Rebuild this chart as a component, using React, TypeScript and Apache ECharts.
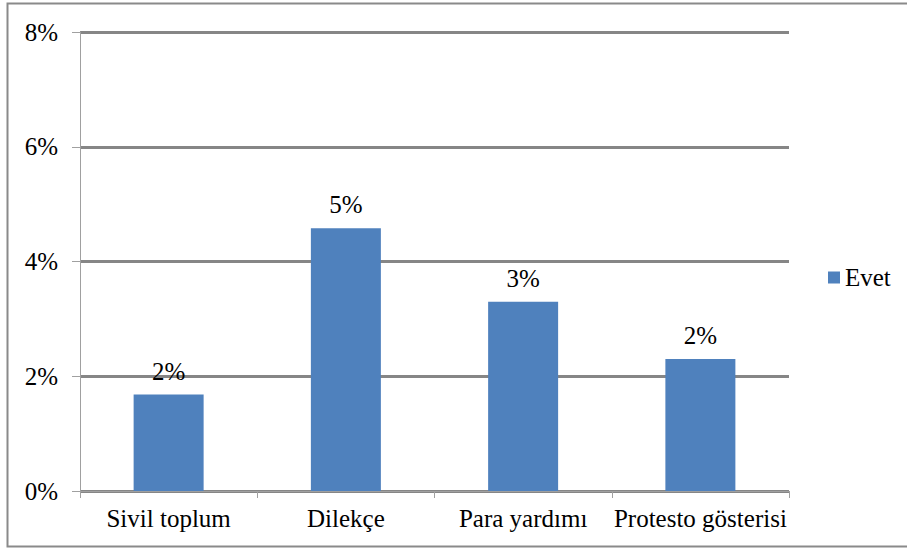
import React, { useEffect, useRef } from "react";
import * as echarts from "echarts";

const categories = ["Sivil toplum", "Dilekçe", "Para yardımı", "Protesto gösterisi"];
const evetValues = [1.68, 4.58, 3.3, 2.3];
const seriesName = "Evet";

export default function App() {
  const ref = useRef<HTMLDivElement>(null);
  useEffect(() => {
    if (!ref.current) return;
    const chart = echarts.init(ref.current, null, { renderer: "svg" });
    const font = "Liberation Serif";
    const txt = { fontFamily: font, fontSize: 25, color: "#000", fontWeight: "normal" as const };
    chart.setOption({
      animation: false,
      textStyle: { ...txt },
      graphic: [
        {
          type: "rect",
          shape: { x: 7.5, y: 3.5, width: 960, height: 543 },
          style: { fill: "none", stroke: "#8a8a8a", lineWidth: 2 },
          silent: true,
        },
      ],
      grid: { left: 80, right: 118, top: 32, bottom: 58 },
      legend: {
        data: [seriesName],
        left: 828,
        top: 265,
        padding: 0,
        orient: "vertical",
        itemWidth: 12,
        itemHeight: 12,
        icon: "rect",
        textStyle: { ...txt },
      },
      xAxis: {
        type: "category",
        data: categories,
        axisLine: { show: true, lineStyle: { color: "#a0a0a0", width: 1 } },
        axisTick: { show: true, length: 7, lineStyle: { color: "#a0a0a0" } },
        axisLabel: { ...txt, margin: 15, interval: 0 },
      },
      yAxis: {
        type: "value",
        min: 0,
        max: 8,
        interval: 2,
        axisLine: { show: true, lineStyle: { color: "#a0a0a0", width: 1 } },
        axisTick: { show: true, length: 8, lineStyle: { color: "#a0a0a0" } },
        axisLabel: {
          ...txt,
          margin: 22,
          formatter: (v: number) => v + "%",
        },
        splitLine: { show: true, lineStyle: { color: "#868686", width: 3 } },
      },
      series: [
        {
          name: seriesName,
          type: "bar",
          data: evetValues,
          barWidth: 70,
          itemStyle: { color: "#4F81BD" },
          label: {
            show: true,
            position: "top",
            distance: 11,
            ...txt,
            formatter: (p: any) => Math.round(p.value) + "%",
          },
        },
      ],
    });
    return () => chart.dispose();
  }, []);
  return <div ref={ref} style={{ width: 907, height: 549, position: "absolute", left: 0, top: 0 }} />;
}
